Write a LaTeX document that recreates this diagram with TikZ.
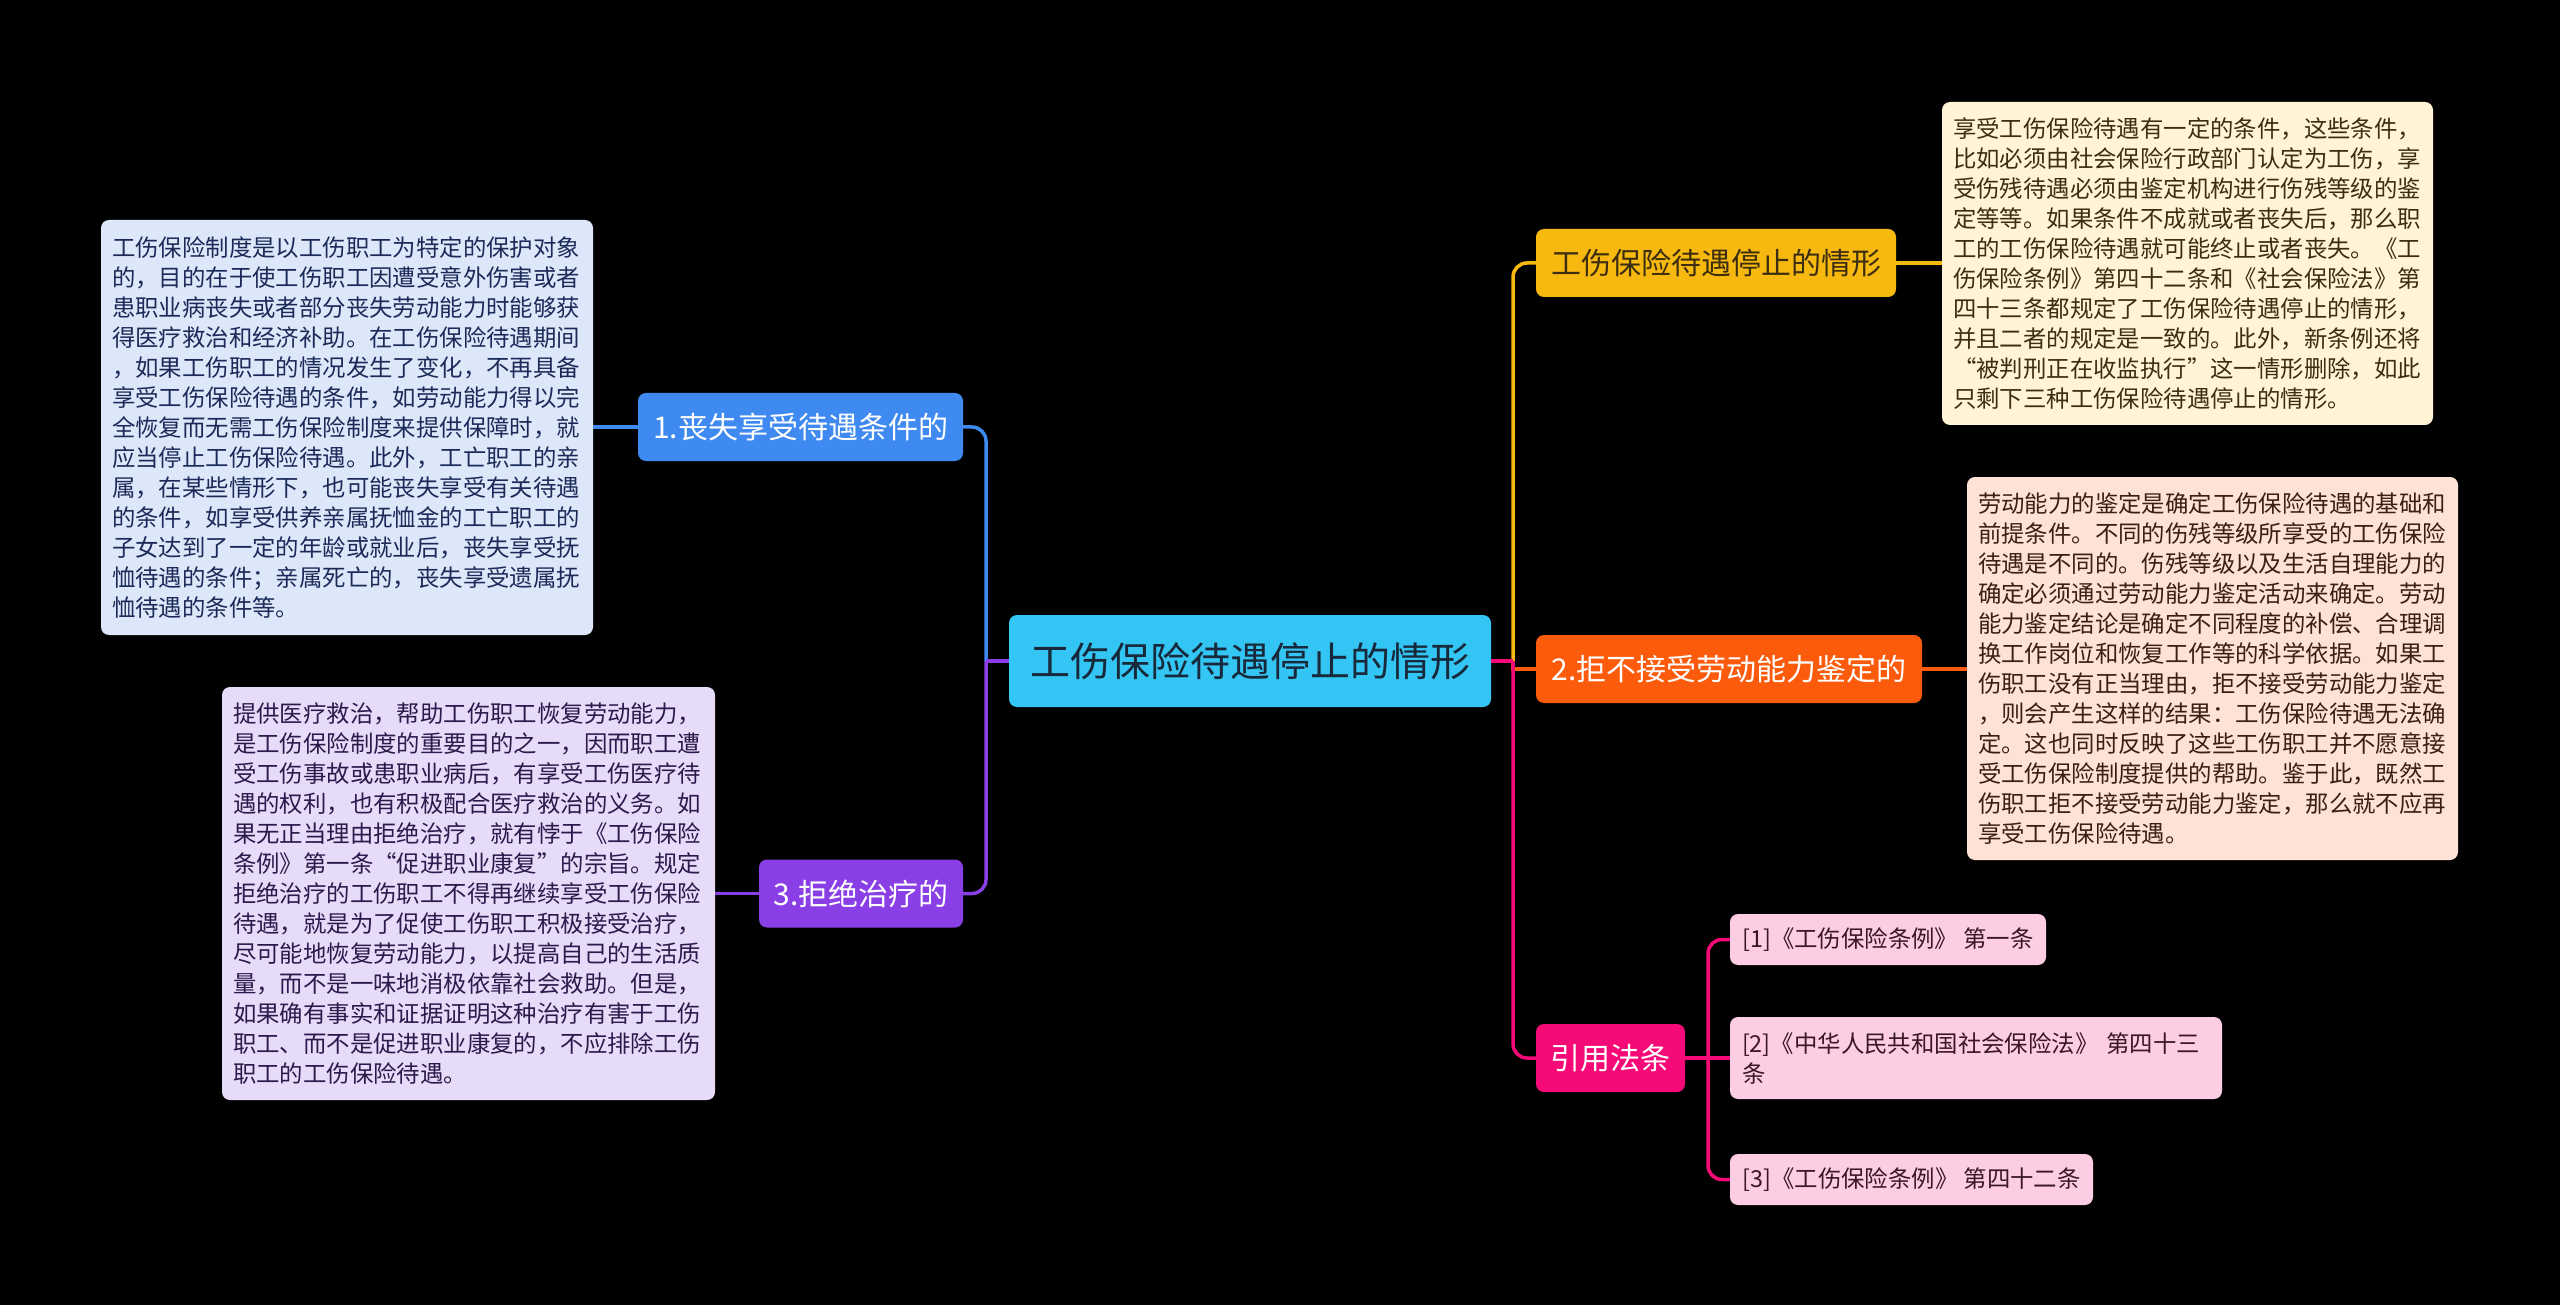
\documentclass[tikz,border=0pt]{standalone}
\usepackage{fontspec}
\newfontfamily\cjk{Noto Sans CJK SC}

\definecolor{bg}{HTML}{000000}
\definecolor{rootc}{HTML}{33C5F3}
\definecolor{roott}{HTML}{17293A}
\definecolor{bluec}{HTML}{3F8AF0}
\definecolor{purplec}{HTML}{8A3EE6}
\definecolor{yellowc}{HTML}{F7B910}
\definecolor{orangec}{HTML}{FB5B0B}
\definecolor{pinkc}{HTML}{F50A78}
\definecolor{bluebg}{HTML}{DCE8FA}
\definecolor{bluetx}{HTML}{1B2A58}
\definecolor{purplebg}{HTML}{E6DBF8}
\definecolor{purpletx}{HTML}{2C1A4C}
\definecolor{yellowbg}{HTML}{FFF4D6}
\definecolor{yellowtx}{HTML}{3C2E0E}
\definecolor{orangebg}{HTML}{FDE2D5}
\definecolor{orangetx}{HTML}{3C1E12}
\definecolor{pinkbg}{HTML}{FCCDE3}
\definecolor{pinktx}{HTML}{3A1626}

\tikzset{
  topic/.style={rounded corners=8pt, inner sep=0pt, align=center, minimum height=68pt},
  root/.style={topic, fill=rootc, text=roott, minimum height=92pt, font=\cjk\fontsize{40}{48}\selectfont},
  branch/.style={topic, text=white, font=\cjk\fontsize{30}{36}\selectfont},
  note/.style={rounded corners=8pt, align=left, inner xsep=11pt, inner ysep=0pt, font=\cjk\fontsize{23.4}{30}\selectfont},
  law/.style={note, fill=pinkbg, text=pinktx, inner xsep=0pt},
  link/.style={line width=3.5pt, rounded corners=14pt},
}

\begin{document}
\begin{tikzpicture}[x=1pt, y=-1pt]
  \fill[bg] (0,0) rectangle (2560,1305);
  \useasboundingbox (0,0) rectangle (2560,1305);

  \node[root, minimum width=482pt] (root) at (1250,661) {工伤保险待遇停止的情形};

  \node[branch, fill=bluec, minimum width=325pt] (lose) at (800.5,427) {1.丧失享受待遇条件的};
  \node[branch, fill=purplec, minimum width=204pt] (refuse) at (861,893.5) {3.拒绝治疗的};
  \node[branch, fill=yellowc, text=yellowtx, minimum width=360pt] (stop) at (1716,263) {工伤保险待遇停止的情形};
  \node[branch, fill=orangec, minimum width=386pt] (assess) at (1729,669) {2.拒不接受劳动能力鉴定的};
  \node[branch, fill=pinkc, minimum width=149pt] (laws) at (1610.5,1058) {引用法条};

  \node[note, fill=bluebg, text=bluetx, text width=470pt, minimum height=415pt] (loseNote) at (347,427.5) {%
工伤保险制度是以工伤职工为特定的保护对象\\
的，目的在于使工伤职工因遭受意外伤害或者\\
患职业病丧失或者部分丧失劳动能力时能够获\\
得医疗救治和经济补助。在工伤保险待遇期间\\
，如果工伤职工的情况发生了变化，不再具备\\
享受工伤保险待遇的条件，如劳动能力得以完\\
全恢复而无需工伤保险制度来提供保障时，就\\
应当停止工伤保险待遇。此外，工亡职工的亲\\
属，在某些情形下，也可能丧失享受有关待遇\\
的条件，如享受供养亲属抚恤金的工亡职工的\\
子女达到了一定的年龄或就业后，丧失享受抚\\
恤待遇的条件；亲属死亡的，丧失享受遗属抚\\
恤待遇的条件等。};

  \node[note, fill=purplebg, text=purpletx, text width=471pt, minimum height=413pt] (refuseNote) at (468.5,893.5) {%
提供医疗救治，帮助工伤职工恢复劳动能力，\\
是工伤保险制度的重要目的之一，因而职工遭\\
受工伤事故或患职业病后，有享受工伤医疗待\\
遇的权利，也有积极配合医疗救治的义务。如\\
果无正当理由拒绝治疗，就有悖于《工伤保险\\
条例》第一条“促进职业康复”的宗旨。规定\\
拒绝治疗的工伤职工不得再继续享受工伤保险\\
待遇，就是为了促使工伤职工积极接受治疗，\\
尽可能地恢复劳动能力，以提高自己的生活质\\
量，而不是一味地消极依靠社会救助。但是，\\
如果确有事实和证据证明这种治疗有害于工伤\\
职工、而不是促进职业康复的，不应排除工伤\\
职工的工伤保险待遇。};

  \node[note, fill=yellowbg, text=yellowtx, text width=469pt, minimum height=323pt] (stopNote) at (2187.5,263.5) {%
享受工伤保险待遇有一定的条件，这些条件，\\
比如必须由社会保险行政部门认定为工伤，享\\
受伤残待遇必须由鉴定机构进行伤残等级的鉴\\
定等等。如果条件不成就或者丧失后，那么职\\
工的工伤保险待遇就可能终止或者丧失。《工\\
伤保险条例》第四十二条和《社会保险法》第\\
四十三条都规定了工伤保险待遇停止的情形，\\
并且二者的规定是一致的。此外，新条例还将\\
“被判刑正在收监执行”这一情形删除，如此\\
只剩下三种工伤保险待遇停止的情形。};

  \node[note, fill=orangebg, text=orangetx, text width=469pt, minimum height=383pt] (assessNote) at (2212.5,668.5) {%
劳动能力的鉴定是确定工伤保险待遇的基础和\\
前提条件。不同的伤残等级所享受的工伤保险\\
待遇是不同的。伤残等级以及生活自理能力的\\
确定必须通过劳动能力鉴定活动来确定。劳动\\
能力鉴定结论是确定不同程度的补偿、合理调\\
换工作岗位和恢复工作等的科学依据。如果工\\
伤职工没有正当理由，拒不接受劳动能力鉴定\\
，则会产生这样的结果：工伤保险待遇无法确\\
定。这也同时反映了这些工伤职工并不愿意接\\
受工伤保险制度提供的帮助。鉴于此，既然工\\
伤职工拒不接受劳动能力鉴定，那么就不应再\\
享受工伤保险待遇。};

  \node[law, minimum width=316pt, minimum height=51pt] (law1) at (1888,939.5) {[1]《工伤保险条例》~第一条};
  \node[law, inner xsep=12pt, text width=468pt, minimum height=82pt] (law2) at (1976,1058) {[2]《中华人民共和国社会保险法》 第四十三\\条};
  \node[law, minimum width=363pt, minimum height=51pt] (law3) at (1911.5,1179.5) {[3]《工伤保险条例》~第四十二条};

  \coordinate (lj) at (986,661);
  \coordinate (rj) at (1513,661);
  \coordinate (cj) at (1708,1058);

  \draw[link, bluec] (lj) |- (lose.east);
  \draw[link, purplec] (lj) |- (refuse.east);
  \draw[link, purplec] (root.west) -- (lj);
  \draw[link, bluec] (lose.west) -- (lose.west -| loseNote.east);
  \draw[link, purplec] (refuse.west) -- (refuse.west -| refuseNote.east);

  \draw[link, yellowc] (rj) |- (stop.west);
  \draw[line width=3.5pt, orangec] (rj) |- (assess.west);
  \draw[link, pinkc] (rj) |- (laws.west);
  \draw[link, pinkc] (root.east) -- (rj);
  \draw[link, yellowc] (stop.east) -- (stop.east -| stopNote.west);
  \draw[link, orangec] (assess.east) -- (assess.east -| assessNote.west);

  \draw[link, pinkc] (laws.east) -- (law2.west);
  \draw[link, pinkc] (cj) |- (law1.west);
  \draw[link, pinkc] (cj) |- (law3.west);
\end{tikzpicture}
\end{document}
